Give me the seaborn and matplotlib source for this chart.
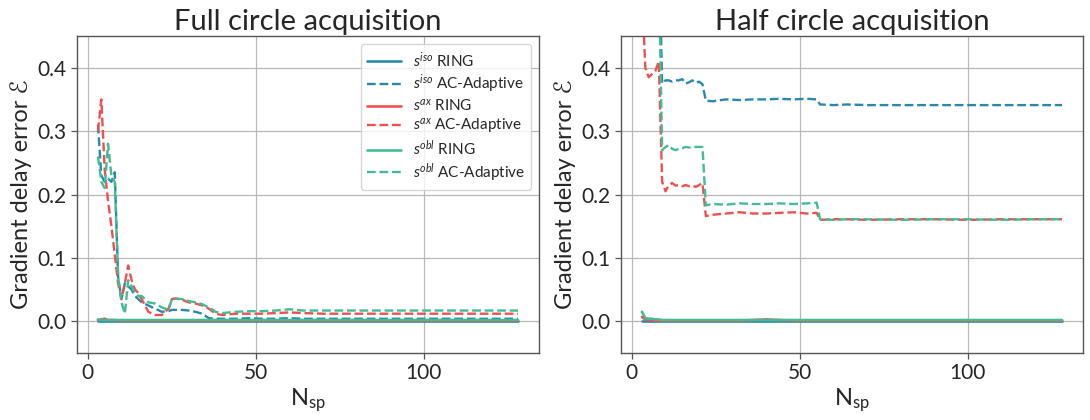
import matplotlib
matplotlib.use("Agg")
import matplotlib.pyplot as plt
import seaborn as sns
import pandas as pd

# ---- data -------------------------------------------------------------
# Full circle acquisition
n_full = [3, 4, 5, 6, 7, 8, 9, 10, 11, 12, 13, 14, 15, 16, 18, 20, 22, 24, 25,
          26, 28, 30, 32, 34, 36, 38, 40, 44, 48, 52, 56, 60, 64, 70, 80, 90,
          100, 110, 120, 128]
full_iso_ring = [0.001] * 40
full_iso_ac = [0.31, 0.23, 0.22, 0.225, 0.22, 0.235, 0.07, 0.035, 0.06, 0.055,
               0.05, 0.04, 0.035, 0.03, 0.025, 0.02, 0.015, 0.016, 0.018, 0.018,
               0.018, 0.017, 0.015, 0.012, 0.005, 0.004, 0.004, 0.004, 0.005,
               0.004, 0.004, 0.005, 0.004, 0.004, 0.004, 0.004, 0.004, 0.004,
               0.004, 0.004]
full_ax_ring = [0.002, 0.003, 0.004, 0.002, 0.002, 0.002, 0.001, 0.001, 0.001,
                0.001, 0.001, 0.001, 0.001, 0.001, 0.001, 0.001, 0.001, 0.001,
                0.001, 0.001, 0.001, 0.001, 0.001, 0.001, 0.001, 0.001, 0.001,
                0.001, 0.001, 0.001, 0.001, 0.001, 0.001, 0.001, 0.001, 0.001,
                0.001, 0.001, 0.001, 0.001]
full_ax_ac = [0.30, 0.35, 0.24, 0.19, 0.15, 0.105, 0.06, 0.035, 0.06, 0.088,
              0.065, 0.05, 0.045, 0.035, 0.015, 0.01, 0.01, 0.02, 0.035, 0.036,
              0.034, 0.03, 0.028, 0.025, 0.02, 0.012, 0.01, 0.012, 0.012, 0.012,
              0.013, 0.014, 0.013, 0.012, 0.012, 0.012, 0.012, 0.012, 0.012,
              0.012]
full_obl_ring = [0.003, 0.002, 0.002, 0.002, 0.002, 0.002, 0.002, 0.002, 0.002,
                 0.002, 0.002, 0.002, 0.002, 0.002, 0.002, 0.002, 0.002, 0.002,
                 0.002, 0.002, 0.002, 0.002, 0.002, 0.002, 0.002, 0.002, 0.002,
                 0.002, 0.002, 0.002, 0.002, 0.002, 0.002, 0.002, 0.002, 0.002,
                 0.002, 0.002, 0.002, 0.002]
full_obl_ac = [0.26, 0.22, 0.21, 0.28, 0.23, 0.22, 0.07, 0.03, 0.012, 0.065,
               0.055, 0.045, 0.04, 0.04, 0.03, 0.028, 0.022, 0.018, 0.035, 0.036,
               0.035, 0.032, 0.03, 0.027, 0.022, 0.015, 0.013, 0.015, 0.016,
               0.016, 0.017, 0.019, 0.017, 0.017, 0.017, 0.017, 0.017, 0.017,
               0.017, 0.017]

# Half circle acquisition
n_half = [3, 4, 5, 6, 7, 8, 9, 10, 11, 12, 13, 14, 15, 16, 17, 18, 19, 20, 21,
          22, 24, 28, 32, 36, 40, 44, 48, 52, 55, 56, 60, 64, 70, 80, 90, 100,
          110, 120, 128]
half_iso_ring = [0.001] * 39
half_iso_ac = [0.60, 0.60, 0.60, 0.60, 0.60, 0.60, 0.375, 0.38, 0.38, 0.378,
               0.38, 0.38, 0.382, 0.375, 0.377, 0.38, 0.376, 0.378, 0.374, 0.348,
               0.347, 0.35, 0.349, 0.35, 0.35, 0.351, 0.35, 0.351, 0.35, 0.342,
               0.341, 0.342, 0.341, 0.341, 0.341, 0.341, 0.341, 0.341, 0.341]
half_ax_ring = [0.007, 0.003, 0.002, 0.002, 0.001, 0.001, 0.001, 0.001, 0.001,
                0.001, 0.001, 0.001, 0.001, 0.001, 0.001, 0.001, 0.001, 0.001,
                0.001, 0.001, 0.001, 0.001, 0.001, 0.002, 0.003, 0.002, 0.001,
                0.001, 0.001, 0.001, 0.001, 0.001, 0.001, 0.001, 0.001, 0.001,
                0.001, 0.001, 0.001]
half_ax_ac = [0.52, 0.40, 0.385, 0.39, 0.395, 0.41, 0.22, 0.205, 0.215, 0.218,
              0.214, 0.215, 0.213, 0.215, 0.213, 0.214, 0.212, 0.215, 0.218,
              0.166, 0.168, 0.17, 0.172, 0.17, 0.17, 0.171, 0.172, 0.17, 0.171,
              0.16, 0.161, 0.161, 0.16, 0.161, 0.161, 0.16, 0.161, 0.161, 0.161]
half_obl_ring = [0.015, 0.005, 0.004, 0.004, 0.003, 0.003, 0.002, 0.002, 0.002,
                 0.002, 0.002, 0.002, 0.002, 0.002, 0.002, 0.002, 0.002, 0.002,
                 0.002, 0.002, 0.002, 0.002, 0.002, 0.002, 0.002, 0.002, 0.002,
                 0.002, 0.002, 0.002, 0.002, 0.002, 0.002, 0.002, 0.002, 0.002,
                 0.002, 0.002, 0.002]
half_obl_ac = [0.60, 0.60, 0.60, 0.60, 0.60, 0.55, 0.27, 0.275, 0.278, 0.272,
               0.27, 0.272, 0.273, 0.275, 0.274, 0.275, 0.275, 0.275, 0.275,
               0.183, 0.185, 0.184, 0.186, 0.185, 0.185, 0.186, 0.185, 0.186,
               0.187, 0.161, 0.16, 0.161, 0.161, 0.16, 0.161, 0.161, 0.16,
               0.161, 0.161]

titles = ["Full circle acquisition", "Half circle acquisition"]
x_ticks = [0, 50, 100]
y_ticks = [0.0, 0.1, 0.2, 0.3, 0.4]

# ---- style ------------------------------------------------------------
sns.set_theme(style="ticks")
plt.rcParams["font.family"] = ["Lato", "DejaVu Sans"]
plt.rcParams["mathtext.fontset"] = "custom"
plt.rcParams["mathtext.rm"] = "Lato"
plt.rcParams["mathtext.it"] = "Lato:italic"
plt.rcParams["mathtext.bf"] = "Lato:bold"

colors = {"iso": "#2a89a9", "ax": "#ef4f4f", "obl": "#43bb93"}

panels = [
    (n_full, {"iso": (full_iso_ring, full_iso_ac),
              "ax": (full_ax_ring, full_ax_ac),
              "obl": (full_obl_ring, full_obl_ac)}),
    (n_half, {"iso": (half_iso_ring, half_iso_ac),
              "ax": (half_ax_ring, half_ax_ac),
              "obl": (half_obl_ring, half_obl_ac)}),
]

fig = plt.figure(figsize=(10.9, 4.2), dpi=100)
axes = [fig.add_axes([0.0706, 0.1595, 0.4239, 0.7548]),
        fig.add_axes([0.5697, 0.1595, 0.4239, 0.7548])]

for ax, title, (n, series) in zip(axes, titles, panels):
    for key in ["iso", "ax", "obl"]:
        ring, ac = series[key]
        df = pd.DataFrame({"N": n, "ring": ring, "ac": ac})
        sns.lineplot(data=df, x="N", y="ring", ax=ax, color=colors[key],
                     lw=1.9, label=f"$\\it{{s}}^{{{key}}}$ RING")
        sns.lineplot(data=df, x="N", y="ac", ax=ax, color=colors[key],
                     lw=1.7, linestyle="--",
                     label=f"$\\it{{s}}^{{{key}}}$ AC-Adaptive")
    ax.set_ylim(-0.05, 0.45)
    ax.set_xticks(x_ticks)
    ax.set_yticks(y_ticks)
    ax.grid(True, color="#b8b8b8", lw=0.9)
    for sp in ax.spines.values():
        sp.set_color("#555555")
        sp.set_linewidth(1.0)
    ax.tick_params(labelsize=15, color="#555555", length=4, width=0.9)
    ax.set_title(title, fontsize=21, pad=4)
    ax.set_xlabel(r"$\mathrm{N}_{\mathrm{sp}}$", fontsize=17, labelpad=2)
    ax.set_ylabel("Gradient delay error ℰ", fontsize=17, labelpad=4)

axes[0].legend(loc="upper right", fontsize=11, frameon=True,
               borderaxespad=0.5, labelspacing=0.18, handlelength=2.2)
axes[1].get_legend().remove()

fig.savefig("out.png", dpi=100)
